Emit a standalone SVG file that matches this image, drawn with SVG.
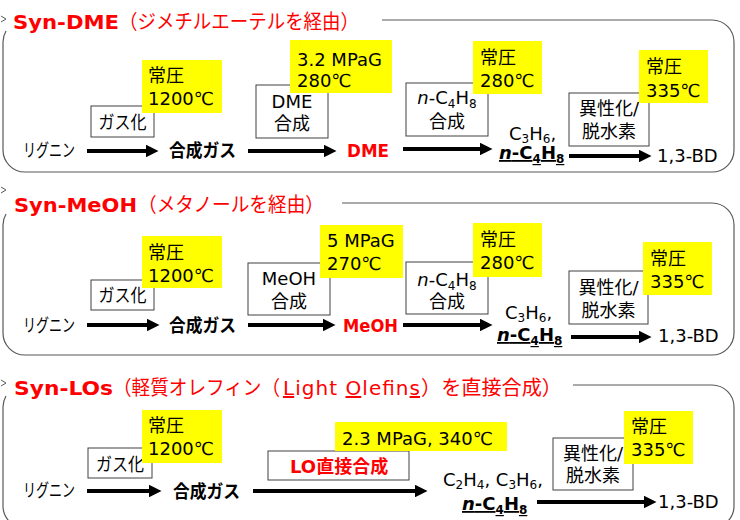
<svg xmlns="http://www.w3.org/2000/svg" width="740" height="520" viewBox="0 0 740 520">
<style>
.t{font-family:"DejaVu Sans","Noto Sans CJK JP",sans-serif;font-size:18px;fill:#000}
.b{font-weight:bold}
.red{fill:#f00}
.ttl{font-size:20px;fill:#f00}
.sub{font-size:12px}
.box{fill:#fff;stroke:#404040;stroke-width:1}
.yel{fill:#ff0;stroke:none}
.frame{fill:none;stroke:#595959;stroke-width:1.2}
.chev{fill:none;stroke:#595959;stroke-width:1}
.arr{stroke:#000;stroke-width:4;fill:none;marker-end:url(#ah)}
.m{text-anchor:middle}
.u{text-decoration:underline}
</style>
<defs>
<marker id="ah" viewBox="0 0 10 10" refX="1" refY="5" markerWidth="3.2" markerHeight="3.2" orient="auto" markerUnits="strokeWidth">
<path d="M0,0 L10,5 L0,10 z" fill="#000"/>
</marker>
</defs>

<!-- Panel frames and titles -->
<g id="panel1">
<path class="frame" d="M382,20 H712 A22 22 0 0 1 734,42 V150 A22 22 0 0 1 712,172 H25 A22 22 0 0 1 3,150 V42 A22 22 0 0 1 6,31"/>
<polyline class="chev" points="1,16 6,19 1,22"/>
<text class="t b ttl" x="13" y="29" textLength="106" lengthAdjust="spacingAndGlyphs">Syn-DME</text>
<text class="t ttl" x="119" y="29" textLength="240" lengthAdjust="spacingAndGlyphs">（ジメチルエーテルを経由）</text>
</g>
<g id="panel2">
<path class="frame" d="M342,203 H712 A22 22 0 0 1 734,225 V333 A22 22 0 0 1 712,355 H25 A22 22 0 0 1 3,333 V225 A22 22 0 0 1 6,214"/>
<polyline class="chev" points="1,187 6,190 1,193"/>
<text class="t b ttl" x="14" y="212" textLength="123" lengthAdjust="spacingAndGlyphs">Syn-MeOH</text>
<text class="t ttl" x="138" y="212" textLength="186" lengthAdjust="spacingAndGlyphs">（メタノールを経由）</text>
</g>
<g id="panel3">
<path class="frame" d="M573,385 H712 A22 22 0 0 1 734,407 V506 A22 22 0 0 1 712,528 H25 A22 22 0 0 1 3,506 V407 A22 22 0 0 1 6,396"/>
<polyline class="chev" points="1,380 6,383 1,386"/>
<text class="t b ttl" x="14" y="395" textLength="99" lengthAdjust="spacingAndGlyphs">Syn-LOs</text>
<text class="t ttl" x="113" y="395" textLength="167" lengthAdjust="spacingAndGlyphs">（軽質オレフィン（</text>
<text class="t ttl" x="283" y="395" textLength="137" lengthAdjust="spacing"><tspan class="u">L</tspan>ight <tspan class="u">O</tspan>lefin<tspan class="u">s</tspan></text>
<text class="t ttl" x="421" y="395" textLength="141" lengthAdjust="spacingAndGlyphs">）を直接合成）</text>
</g>

<!-- Connectors -->
<g id="connectors">
<line class="arr" x1="87" y1="151" x2="147" y2="151"/>
<line class="arr" x1="248" y1="151" x2="325" y2="151"/>
<line class="arr" x1="403" y1="149" x2="481" y2="149"/>
<line class="arr" x1="569" y1="156" x2="640" y2="156"/>

<line class="arr" x1="87" y1="325" x2="148" y2="325"/>
<line class="arr" x1="248" y1="325" x2="324" y2="325"/>
<line class="arr" x1="403" y1="325" x2="481" y2="325"/>
<line class="arr" x1="571" y1="337" x2="640" y2="337"/>

<line class="arr" x1="87" y1="491" x2="150" y2="491"/>
<line class="arr" x1="253" y1="491" x2="416" y2="491"/>
<line class="arr" x1="537" y1="502" x2="645" y2="502"/>
</g>

<!-- Panel 1 nodes -->
<g id="p1-lignin"><text class="t" x="23" y="157" textLength="52" lengthAdjust="spacingAndGlyphs">リグニン</text></g>
<g id="p1-gasify"><rect class="box" x="91" y="106" width="63" height="31"/><text class="t m" x="122.5" y="129" textLength="48" lengthAdjust="spacingAndGlyphs">ガス化</text></g>
<g id="p1-cond1"><rect class="yel" x="142" y="60" width="80" height="53"/><text class="t" x="148" y="82">常圧</text><text class="t" x="148" y="105">1200℃</text></g>
<g id="p1-syngas"><text class="t b" x="169" y="157" textLength="67" lengthAdjust="spacingAndGlyphs">合成ガス</text></g>
<g id="p1-dmesyn"><rect class="box" x="256" y="85" width="72" height="53"/><text class="t m" x="292" y="108">DME</text><text class="t m" x="292" y="130">合成</text></g>
<g id="p1-cond2"><rect class="yel" x="290" y="40" width="102" height="53"/><text class="t" x="297" y="66">3.2 MPaG</text><text class="t" x="297" y="87">280℃</text></g>
<g id="p1-dme"><text class="t b red" x="347" y="157" textLength="42" lengthAdjust="spacingAndGlyphs">DME</text></g>
<g id="p1-c4syn"><rect class="box" x="406" y="83" width="82" height="53"/><text class="t m" x="447" y="104"><tspan font-style="italic">n</tspan>-C<tspan class="sub" dy="4">4</tspan><tspan dy="-4">H</tspan><tspan class="sub" dy="4">8</tspan></text><text class="t m" x="447" y="128">合成</text></g>
<g id="p1-cond3"><rect class="yel" x="473" y="41" width="69" height="53"/><text class="t" x="480" y="64">常圧</text><text class="t" x="480" y="87">280℃</text></g>
<g id="p1-olef"><text class="t" x="509" y="140">C<tspan class="sub" dy="3">3</tspan><tspan dy="-3">H</tspan><tspan class="sub" dy="3">6</tspan><tspan dy="-3">,</tspan></text><text class="t b u" x="499" y="159"><tspan font-style="italic">n</tspan>-C<tspan class="sub" dy="4">4</tspan><tspan dy="-4">H</tspan><tspan class="sub" dy="4">8</tspan></text></g>
<g id="p1-isom"><rect class="box" x="569" y="93" width="80" height="53"/><text class="t m" x="609" y="115">異性化/</text><text class="t m" x="609" y="138">脱水素</text></g>
<g id="p1-cond4"><rect class="yel" x="639" y="50" width="69" height="53"/><text class="t" x="646" y="73">常圧</text><text class="t" x="646" y="97">335℃</text></g>
<g id="p1-bd"><text class="t" x="657" y="162">1,3-BD</text></g>

<!-- Panel 2 nodes -->
<g id="p2-lignin"><text class="t" x="23" y="332" textLength="52" lengthAdjust="spacingAndGlyphs">リグニン</text></g>
<g id="p2-gasify"><rect class="box" x="91" y="280" width="63" height="30"/><text class="t m" x="122.5" y="302" textLength="48" lengthAdjust="spacingAndGlyphs">ガス化</text></g>
<g id="p2-cond1"><rect class="yel" x="142" y="236" width="80" height="52"/><text class="t" x="148" y="259">常圧</text><text class="t" x="148" y="282">1200℃</text></g>
<g id="p2-syngas"><text class="t b" x="169" y="332" textLength="67" lengthAdjust="spacingAndGlyphs">合成ガス</text></g>
<g id="p2-meohsyn"><rect class="box" x="248" y="263" width="82" height="52"/><text class="t m" x="289" y="285">MeOH</text><text class="t m" x="289" y="308">合成</text></g>
<g id="p2-cond2"><rect class="yel" x="320" y="225" width="83" height="53"/><text class="t" x="327" y="247">5 MPaG</text><text class="t" x="327" y="270">270℃</text></g>
<g id="p2-meoh"><text class="t b red" x="343" y="332" textLength="55" lengthAdjust="spacingAndGlyphs">MeOH</text></g>
<g id="p2-c4syn"><rect class="box" x="406" y="262" width="82" height="52"/><text class="t m" x="447" y="286"><tspan font-style="italic">n</tspan>-C<tspan class="sub" dy="4">4</tspan><tspan dy="-4">H</tspan><tspan class="sub" dy="4">8</tspan></text><text class="t m" x="447" y="308">合成</text></g>
<g id="p2-cond3"><rect class="yel" x="473" y="223" width="69" height="54"/><text class="t" x="480" y="246">常圧</text><text class="t" x="480" y="269">280℃</text></g>
<g id="p2-olef"><text class="t" x="505" y="319">C<tspan class="sub" dy="3">3</tspan><tspan dy="-3">H</tspan><tspan class="sub" dy="3">6</tspan><tspan dy="-3">,</tspan></text><text class="t b u" x="497" y="341"><tspan font-style="italic">n</tspan>-C<tspan class="sub" dy="4">4</tspan><tspan dy="-4">H</tspan><tspan class="sub" dy="4">8</tspan></text></g>
<g id="p2-isom"><rect class="box" x="569" y="271" width="79" height="53"/><text class="t m" x="608.5" y="294">異性化/</text><text class="t m" x="608.5" y="317">脱水素</text></g>
<g id="p2-cond4"><rect class="yel" x="643" y="242" width="69" height="53"/><text class="t" x="650" y="265">常圧</text><text class="t" x="650" y="288">335℃</text></g>
<g id="p2-bd"><text class="t" x="658" y="342">1,3-BD</text></g>

<!-- Panel 3 nodes -->
<g id="p3-lignin"><text class="t" x="23" y="497" textLength="52" lengthAdjust="spacingAndGlyphs">リグニン</text></g>
<g id="p3-gasify"><rect class="box" x="88" y="448" width="64" height="30"/><text class="t m" x="120" y="471" textLength="48" lengthAdjust="spacingAndGlyphs">ガス化</text></g>
<g id="p3-cond1"><rect class="yel" x="142" y="410" width="80" height="53"/><text class="t" x="148" y="432">常圧</text><text class="t" x="148" y="455">1200℃</text></g>
<g id="p3-syngas"><text class="t b" x="173" y="498" textLength="67" lengthAdjust="spacingAndGlyphs">合成ガス</text></g>
<g id="p3-losyn"><rect class="box" x="268" y="451" width="141" height="29"/><text class="t b red" x="290" y="473">LO直接合成</text></g>
<g id="p3-cond2"><rect class="yel" x="335" y="422" width="172" height="29"/><text class="t" x="342" y="445">2.3 MPaG, 340℃</text></g>
<g id="p3-olef"><text class="t" x="443" y="486">C<tspan class="sub" dy="3">2</tspan><tspan dy="-3">H</tspan><tspan class="sub" dy="3">4</tspan><tspan dy="-3">, C</tspan><tspan class="sub" dy="3">3</tspan><tspan dy="-3">H</tspan><tspan class="sub" dy="3">6</tspan><tspan dy="-3">,</tspan></text><text class="t b u" x="462" y="510"><tspan font-style="italic">n</tspan>-C<tspan class="sub" dy="4">4</tspan><tspan dy="-4">H</tspan><tspan class="sub" dy="4">8</tspan></text></g>
<g id="p3-isom"><rect class="box" x="553" y="438" width="80" height="52"/><text class="t m" x="593" y="460">異性化/</text><text class="t m" x="593" y="482">脱水素</text></g>
<g id="p3-cond4"><rect class="yel" x="624" y="411" width="69" height="53"/><text class="t" x="631" y="433">常圧</text><text class="t" x="631" y="456">335℃</text></g>
<g id="p3-bd"><text class="t" x="658" y="508">1,3-BD</text></g>
</svg>
